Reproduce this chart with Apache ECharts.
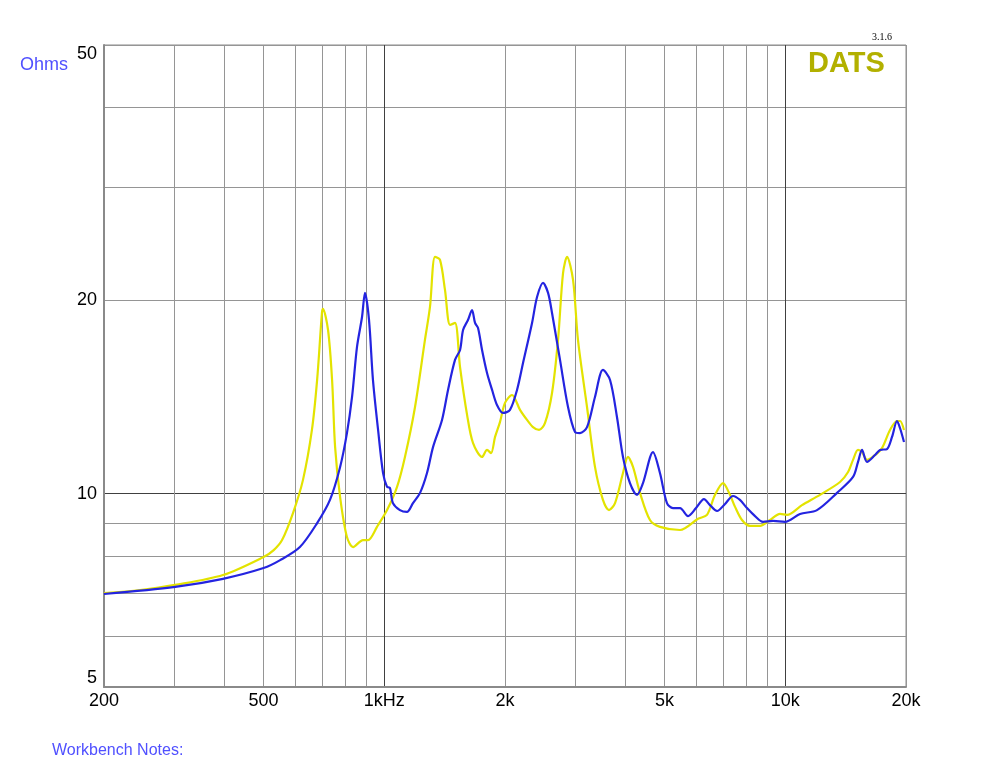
<!DOCTYPE html>
<html><head><meta charset="utf-8">
<script src="https://cdn.jsdelivr.net/npm/echarts@6/dist/echarts.min.js"></script>
<style>html,body{margin:0;padding:0;background:#fff}#c{width:981px;height:759px}</style>
</head><body><div id="c"></div>
<script>
const freqGrid = [200,300,400,500,600,700,800,900,1000,2000,3000,4000,5000,6000,7000,8000,9000,10000,20000];
const freqMajor = [1000,10000];
const freqLabels = [200,500,1000,2000,5000,10000,20000];
const ohmGrid = [5,6,7,8,9,10,20,30,40,50];
const ohmMajor = [10];
const ohmLabels = [5,10,20,50];

const yellowFreq = [200,246,301,396,500,530,556,592,627,660,680,699,703,724,741,754,776,807,836,885,911,959,1016,1076,1126,1193,1263,1300,1338,1377,1417,1459,1501,1545,1609,1664,1753,1804,1846,1889,1943,2000,2082,2180,2270,2349,2432,2517,2620,2712,2791,2856,2956,3041,3203,3353,3510,3634,3762,3938,4052,4171,4342,4598,4869,5464,6058,6378,6680,6994,7279,7494,7799,8166,8650,9160,9702,10098,11006,12204,13692,14340,14756,15185,15536,15990,16742,17426,18246,18996,19322,19772];
const yellowOhms = [7.00,7.08,7.21,7.47,7.97,8.17,8.47,9.33,10.51,12.57,15.04,19.12,19.4,17.99,15.04,11.82,9.88,8.56,8.26,8.47,8.47,8.88,9.43,10.25,11.41,13.65,17.36,19.54,23.38,23.13,20.77,18.32,18.45,15.75,13.26,12.00,11.41,11.70,11.57,12.26,12.93,13.85,14.25,13.51,13.03,12.70,12.57,12.89,14.35,17.36,22.07,23.38,21.53,17.36,13.65,11.01,9.78,9.43,9.67,10.77,11.41,11.01,10.03,9.10,8.88,8.78,9.14,9.27,9.96,10.39,9.96,9.54,9.10,8.91,8.91,9.10,9.30,9.27,9.60,9.96,10.43,10.81,11.29,11.70,11.61,11.29,11.49,11.78,12.57,12.98,12.98,12.57];

const blueFreq = [200,301,396,500,550,616,680,732,776,807,831,855,880,895,916,937,965,993,1016,1033,1051,1094,1139,1179,1228,1278,1323,1393,1442,1501,1545,1572,1617,1655,1684,1713,1753,1804,1857,1910,1977,2058,2143,2218,2336,2404,2488,2561,2620,2743,2872,2990,3076,3203,3353,3510,3656,3804,3938,4099,4268,4417,4678,4869,5069,5247,5464,5721,5990,6270,6490,6757,7075,7408,7709,8026,8404,8801,9319,9984,10882,11998,13460,14756,15185,15536,15990,16742,17228,17934,18458,18996,19322,19772];
const blueOhms = [6.98,7.16,7.37,7.66,7.88,8.26,9.00,9.78,11.01,12.43,14.15,16.93,18.85,20.55,18.65,15.04,12.57,10.77,10.25,10.21,9.67,9.43,9.37,9.67,10.03,10.77,11.82,13.03,14.51,16.16,16.75,17.99,18.65,19.33,18.45,18.12,16.75,15.42,14.51,13.75,13.36,13.51,14.51,15.98,18.45,20.25,21.30,20.55,19.12,16.16,13.65,12.48,12.43,12.70,14.15,15.59,15.04,13.17,11.41,10.39,9.96,10.39,11.61,10.77,9.67,9.50,9.50,9.23,9.50,9.81,9.60,9.40,9.64,9.92,9.78,9.50,9.23,9.04,9.07,9.04,9.30,9.43,10.03,10.62,11.21,11.70,11.21,11.49,11.70,11.74,12.26,12.98,12.66,12.04];

const gridGray = '#959595';
const gridDark = '#404040';
const txtFont = 'Liberation Sans, Arial, sans-serif';

function fmtFreq(v){
  if (Math.abs(v-1000) < 1e-6) return '1kHz';
  if (v >= 1000) return Math.round(v/1000) + 'k';
  return String(Math.round(v));
}

const chart = echarts.init(document.getElementById('c'), null, {renderer:'canvas'});
chart.setOption({
  animation: false,
  backgroundColor: '#fff',
  grid: {left:104, right:75, top:45, bottom:72, containLabel:false, show:true, borderColor:'#8a8a8a', borderWidth:1},
  xAxis: [
    {type:'log', logBase:10, min:200, max:20000, position:'bottom',
     axisLine:{show:true, onZero:false, lineStyle:{color:'#8a8a8a', width:2}},
     axisTick:{show:false, customValues:freqGrid},
     axisLabel:{customValues:freqLabels, formatter:fmtFreq, color:'#000', fontSize:18, fontFamily:txtFont, margin:5},
     splitLine:{show:true, lineStyle:{color:gridGray, width:1}}},
    {type:'log', logBase:10, min:200, max:20000, position:'bottom', gridIndex:0,
     axisLine:{show:false}, axisTick:{show:false, customValues:freqMajor}, axisLabel:{show:false},
     splitLine:{show:true, lineStyle:{color:gridDark, width:1}}}
  ],
  yAxis: [
    {type:'log', logBase:10, min:5, max:50, position:'left',
     axisLine:{show:true, onZero:false, lineStyle:{color:'#8a8a8a', width:2}},
     axisTick:{show:false, customValues:ohmGrid},
     axisLabel:{customValues:ohmLabels, color:'#000', fontSize:18, fontFamily:txtFont, margin:7,
       verticalAlignMinLabel:'bottom', verticalAlignMaxLabel:'top'},
     splitLine:{show:true, lineStyle:{color:gridGray, width:1}}},
    {type:'log', logBase:10, min:5, max:50, position:'left', gridIndex:0,
     axisLine:{show:false}, axisTick:{show:false, customValues:ohmMajor}, axisLabel:{show:false},
     splitLine:{show:true, lineStyle:{color:gridDark, width:1}}}
  ],
  series: [
    {type:'line', xAxisIndex:0, yAxisIndex:0, showSymbol:false, smooth:0.3,
     data: yellowFreq.map((f,i)=>[f, yellowOhms[i]]),
     lineStyle:{color:'#e3e300', width:2.2}, itemStyle:{color:'#e3e300'}, z:3},
    {type:'line', xAxisIndex:0, yAxisIndex:0, showSymbol:false, smooth:0.3,
     data: blueFreq.map((f,i)=>[f, blueOhms[i]]),
     lineStyle:{color:'#2424e0', width:2.2}, itemStyle:{color:'#2424e0'}, z:4}
  ],
  graphic: [
    {type:'text', left:20, top:56, style:{text:'Ohms', fill:'#5050ff', font:'18px ' + txtFont}},
    {type:'text', left:52, top:743, style:{text:'Workbench Notes:', fill:'#5050ff', font:'16px ' + txtFont}},
    {type:'text', left:808, top:49, style:{text:'DATS', fill:'#b2b000', font:'bold 29px ' + txtFont}},
    {type:'text', left:872, top:32, style:{text:'3.1.6', fill:'#000', font:'10px Liberation Serif, serif'}}
  ]
});
</script>
</body></html>
